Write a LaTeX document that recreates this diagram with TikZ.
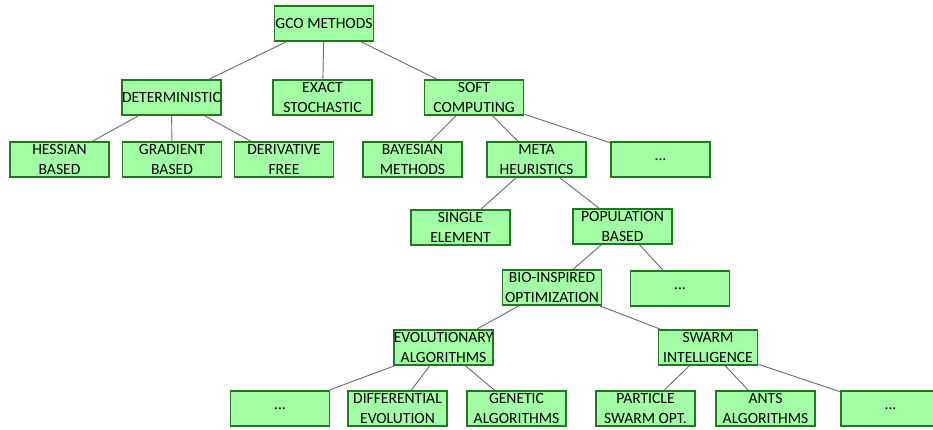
\documentclass[tikz,border=0pt]{standalone}
\usepackage{fontspec}
\setmainfont{Carlito}
\usepackage{xcolor}
\usetikzlibrary{positioning}
\definecolor{leafGreen}{HTML}{A3FFA3}
\definecolor{edgeGreen}{HTML}{1F7A1F}
\definecolor{linkGray}{HTML}{6E6E6E}
\tikzset{
  tree node/.style={draw=edgeGreen,fill=leafGreen,line width=1.6pt,
    minimum width=2.97cm,minimum height=1.05cm,inner xsep=0pt,inner ysep=1pt,
    align=center,font=\fontsize{13.3}{16.5}\selectfont},
  tree link/.style={draw=linkGray,line width=0.8pt}
}

\begin{document}
\begin{tikzpicture}[x=0.03cm,y=-0.03cm]
  \useasboundingbox (0,0) rectangle (933,430);
  % level 0 and 1
  \node[tree node] (gco) at (324,23.5) {GCO METHODS};
  \node[tree node] (det) at (171.5,97.5) {DETERMINISTIC};
  \node[tree node] (exact) at (322.5,97.5) {EXACT\\STOCHASTIC};
  \node[tree node] (soft) at (474,97.5) {SOFT\\COMPUTING};
  % level 2
  \node[tree node] (hess) at (59.5,159.5) {HESSIAN\\BASED};
  \node[tree node] (grad) at (172,159.5) {GRADIENT\\BASED};
  \node[tree node] (deriv) at (284,159.5) {DERIVATIVE\\FREE};
  \node[tree node] (bayes) at (412.5,159.5) {BAYESIAN\\METHODS};
  \node[tree node] (meta) at (536.5,159.5) {META\\HEURISTICS};
  \node[tree node] (softmore) at (660.5,159.5) {...};
  % level 3 and 4
  \node[tree node] (single) at (460.5,227.5) {SINGLE\\ELEMENT};
  \node[tree node] (pop) at (622.5,226.5) {POPULATION\\BASED};
  \node[tree node] (bio) at (552,287.5) {BIO-INSPIRED\\OPTIMIZATION};
  \node[tree node] (popmore) at (680,288.5) {...};
  \node[tree node] (evo) at (443.5,347.5) {EVOLUTIONARY\\ALGORITHMS};
  \node[tree node] (swarm) at (708,347.5) {SWARM\\INTELLIGENCE};
  % leaves
  \node[tree node] (evomore) at (280,408.5) {...};
  \node[tree node] (diff) at (397.5,408.5) {DIFFERENTIAL\\EVOLUTION};
  \node[tree node] (genetic) at (516.5,408.5) {GENETIC\\ALGORITHMS};
  \node[tree node] (pso) at (645.5,408.5) {PARTICLE\\SWARM OPT.};
  \node[tree node] (ants) at (765.5,408.5) {ANTS\\ALGORITHMS};
  \node[tree node] (swarmmore) at (890.5,408.5) {...};
  \foreach \a/\b in {gco/det,gco/exact,gco/soft,det/hess,det/grad,det/deriv,
      soft/bayes,soft/meta,soft/softmore,meta/single,meta/pop,pop/bio,
      pop/popmore,bio/evo,bio/swarm,evo/evomore,evo/diff,evo/genetic,
      swarm/pso,swarm/ants,swarm/swarmmore}
    \draw[tree link] (\a) -- (\b);
\end{tikzpicture}
\end{document}
